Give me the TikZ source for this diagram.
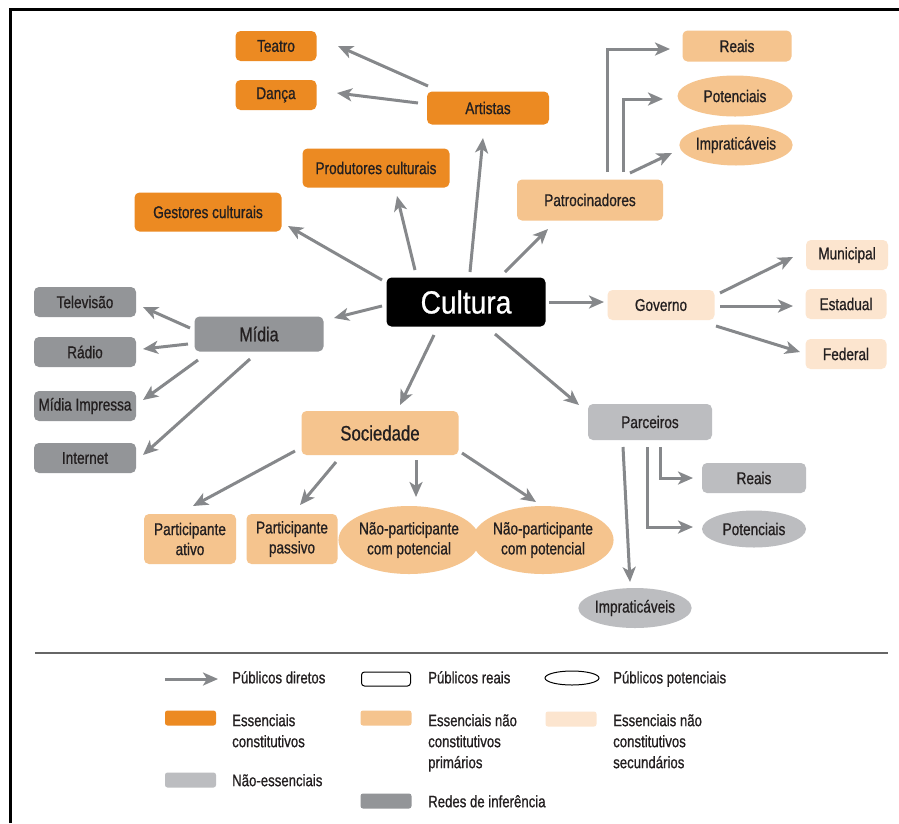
\documentclass[tikz,border=0pt]{standalone}
\usepackage{fontspec}
\setmainfont[FakeStretch=0.8,FakeBold=0.8]{Liberation Sans}
\newfontfamily\culfont[FakeStretch=0.88,FakeBold=0.8]{Liberation Sans}
\usetikzlibrary{shapes.geometric,arrows.meta}
\definecolor{cOr}{HTML}{EC8A22}
\definecolor{cLo}{HTML}{F5C48E}
\definecolor{cPa}{HTML}{FCE5CF}
\definecolor{cLg}{HTML}{BCBDC0}
\definecolor{cDg}{HTML}{939598}
\definecolor{arrc}{HTML}{86888B}
\definecolor{txt}{HTML}{231F20}
\newcommand{\nf}{\fontsize{17}{20}\selectfont}
\newcommand{\lf}{\fontsize{16.5}{21}\selectfont}
\tikzset{
  box/.style={rectangle, rounded corners=5pt, inner sep=0pt, text=txt, font=\nf, align=center},
  oval/.style={ellipse, inner sep=0pt, text=txt, font=\nf, align=center},
  arr/.style={draw=arrc, line width=3pt, -{Stealth[length=15pt,width=13pt,inset=4pt]}},
  lgtext/.style={anchor=north west, inner sep=0pt, text=txt, font=\lf, align=left},
  swatch/.style={rectangle, rounded corners=2.5pt, inner sep=0pt, minimum width=51pt, minimum height=15pt}
}
\begin{document}
\begin{tikzpicture}[x=1pt,y=-1pt]
\useasboundingbox (0,0) rectangle (899,823);
\fill[white] (0,0) rectangle (899,823);
% frame
\draw[line width=3pt, black] (10,823) -- (10,9) -- (899,9);

% nodes
\node[box,fill=cOr,minimum width=81pt,minimum height=30pt] (tea) at (276,46) {Teatro};
\node[box,fill=cOr,minimum width=81pt,minimum height=30pt] (dan) at (276,95) {Dança};
\node[box,fill=cOr,minimum width=122pt,minimum height=33pt] (art) at (488,108) {Artistas};
\node[box,fill=cOr,minimum width=147pt,minimum height=39pt] (pro) at (376,168) {Produtores culturais};
\node[box,fill=cOr,minimum width=147pt,minimum height=39pt] (ges) at (208,212) {Gestores culturais};
\node[box,fill=cLo,minimum width=146pt,minimum height=41pt] (pat) at (590,200) {Patrocinadores};
\node[box,fill=cLo,minimum width=109pt,minimum height=31pt] (rea1) at (737,46) {Reais};
\node[oval,fill=cLo,minimum width=115pt,minimum height=41pt] (pot1) at (735,96) {Potenciais};
\node[oval,fill=cLo,minimum width=112pt,minimum height=41pt] (imp1) at (736,145) {Impraticáveis};
\node[box,fill=cPa,minimum width=82pt,minimum height=30pt] (mun) at (847,255) {Municipal};
\node[box,fill=cPa,minimum width=81pt,minimum height=30pt] (est) at (846,304) {Estadual};
\node[box,fill=cPa,minimum width=81pt,minimum height=30pt] (fed) at (846,354) {Federal};
\node[box,fill=cPa,minimum width=107pt,minimum height=30pt] (gov) at (661,305) {Governo};
\node[box,fill=black,text=white,font={\culfont\fontsize{32}{36}\selectfont},minimum width=159pt,minimum height=49pt] (cul) at (466,302) {Cultura};
\node[box,fill=cDg,font={\fontsize{20}{24}\selectfont},minimum width=129pt,minimum height=35pt] (mid) at (259,334) {Mídia};
\node[box,fill=cDg,minimum width=102pt,minimum height=30pt] (tv) at (85,302) {Televisão};
\node[box,fill=cDg,minimum width=102pt,minimum height=30pt] (rad) at (85,352) {Rádio};
\node[box,fill=cDg,minimum width=102pt,minimum height=30pt] (imp) at (85,406) {Mídia Impressa};
\node[box,fill=cDg,minimum width=102pt,minimum height=30pt] (int) at (85,458) {Internet};
\node[box,fill=cLo,font={\fontsize{21}{24}\selectfont},minimum width=157pt,minimum height=44pt] (soc) at (380,433) {Sociedade};
\node[box,fill=cLo,minimum width=92pt,minimum height=50pt] (pa) at (190,539) {Participante\\ativo};
\node[box,fill=cLo,minimum width=91pt,minimum height=50pt] (pp) at (292,539) {Participante\\passivo};
\node[oval,fill=cLo,minimum width=122pt,minimum height=68pt] (np1) at (409,540) {Não-participante\\com potencial};
\node[oval,fill=cLo,minimum width=126pt,minimum height=68pt] (np2) at (543,540) {Não-participante\\com potencial};
\node[box,fill=cLg,minimum width=124pt,minimum height=36pt] (par) at (650,422) {Parceiros};
\node[box,fill=cLg,minimum width=104pt,minimum height=30pt] (rea2) at (754,478) {Reais};
\node[oval,fill=cLg,minimum width=104pt,minimum height=37pt] (pot2) at (754,529) {Potenciais};
\node[oval,fill=cLg,minimum width=110pt,minimum height=40pt] (imp2) at (635,608) {Impraticáveis};

% connectors
\draw[arr] ([shift={(-60,-22)}]art.center) -- ([shift={(62,0)}]tea.center);
\draw[arr] ([shift={(-70,-5)}]art.center) -- ([shift={(61,-2)}]dan.center);
\draw[arr] ([shift={(4,-30)}]cul.center) -- ([shift={(-5,30)}]art.center);
\draw[arr] ([shift={(-51,-32)}]cul.center) -- ([shift={(21,28)}]pro.center);
\draw[arr] ([shift={(-84,-22)}]cul.center) -- ([shift={(80,14)}]ges.center);
\draw[arr] ([shift={(39,-30)}]cul.center) -- ([shift={(-42,29)}]pat.center);
\draw[arr] ([shift={(17,-28)}]pat.center) |- ([shift={(-67,3)}]rea1.center);
\draw[arr] ([shift={(33,-28)}]pat.center) |- ([shift={(-72,3)}]pot1.center);
\draw[arr] ([shift={(40,-27)}]pat.center) -- ([shift={(-64,8)}]imp1.center);
\draw[arr] ([shift={(83,0)}]cul.center) -- ([shift={(-57,-3)}]gov.center);
\draw[arr] ([shift={(59,-12)}]gov.center) -- ([shift={(-54,2)}]mun.center);
\draw[arr] ([shift={(59,1)}]gov.center) -- ([shift={(-53,2)}]est.center);
\draw[arr] ([shift={(55,21)}]gov.center) -- ([shift={(-46,-2)}]fed.center);
\draw[arr] ([shift={(29,32)}]cul.center) -- ([shift={(-71,-17)}]par.center);
\draw[arr] ([shift={(-84,4)}]cul.center) -- ([shift={(75,-16)}]mid.center);
\draw[arr] ([shift={(-32,33)}]cul.center) -- ([shift={(20,-28)}]soc.center);
\draw[arr] ([shift={(-69,-6)}]mid.center) -- ([shift={(58,5)}]tv.center);
\draw[arr] ([shift={(-71,10)}]mid.center) -- ([shift={(58,-3)}]rad.center);
\draw[arr] ([shift={(-61,26)}]mid.center) -- ([shift={(58,-6)}]imp.center);
\draw[arr] ([shift={(-9,25)}]mid.center) -- ([shift={(58,-3)}]int.center);
\draw[arr] ([shift={(-85,18)}]soc.center) -- ([shift={(3,-33)}]pa.center);
\draw[arr] ([shift={(-44,29)}]soc.center) -- ([shift={(8,-34)}]pp.center);
\draw[arr] ([shift={(36,27)}]soc.center) -- ([shift={(7,-43)}]np1.center);
\draw[arr] ([shift={(82,20)}]soc.center) -- ([shift={(-7,-38)}]np2.center);
\draw[arr] ([shift={(10,25)}]par.center) |- ([shift={(-61,0)}]rea2.center);
\draw[arr] ([shift={(-3,25)}]par.center) |- ([shift={(-61,-2)}]pot2.center);
\draw[arr] ([shift={(-27,25)}]par.center) -- ([shift={(-5,-26)}]imp2.center);

% legend
\coordinate (sepA) at (35,653);
\coordinate (sepB) at (888,653);
\draw[line width=2pt, draw=black!60] (sepA) -- (sepB);
\coordinate (lgA) at (165,679);
\coordinate (lgB) at (218,679);
\draw[arr] (lgA) -- (lgB);
\node[lgtext] (l1) at (232,671) {Públicos diretos};
\node[rectangle, rounded corners=3pt, draw=black, line width=1pt, fill=white, minimum width=49pt, minimum height=14pt, inner sep=0pt] (s2) at (386,679) {};
\node[lgtext] (l2) at (428,671) {Públicos reais};
\node[ellipse, draw=black, line width=1pt, fill=white, minimum width=54pt, minimum height=14pt, inner sep=0pt] (s3) at (572,678) {};
\node[lgtext] (l3) at (613,671) {Públicos potenciais};
\node[swatch, fill=cOr] (s4) at (190.5,718) {};
\node[lgtext] (l4) at (232,714) {Essenciais\\constitutivos};
\node[swatch, fill=cLo] (s5) at (386,718) {};
\node[lgtext] (l5) at (428,714) {Essenciais não\\constitutivos\\primários};
\node[swatch, fill=cPa] (s6) at (571,719) {};
\node[lgtext] (l6) at (613,714) {Essenciais não\\constitutivos\\secundários};
\node[swatch, fill=cLg] (s7) at (190.5,780) {};
\node[lgtext] (l7) at (232,774) {Não-essenciais};
\node[swatch, fill=cDg] (s8) at (386,801) {};
\node[lgtext] (l8) at (428,795) {Redes de inferência};
\end{tikzpicture}
\end{document}
